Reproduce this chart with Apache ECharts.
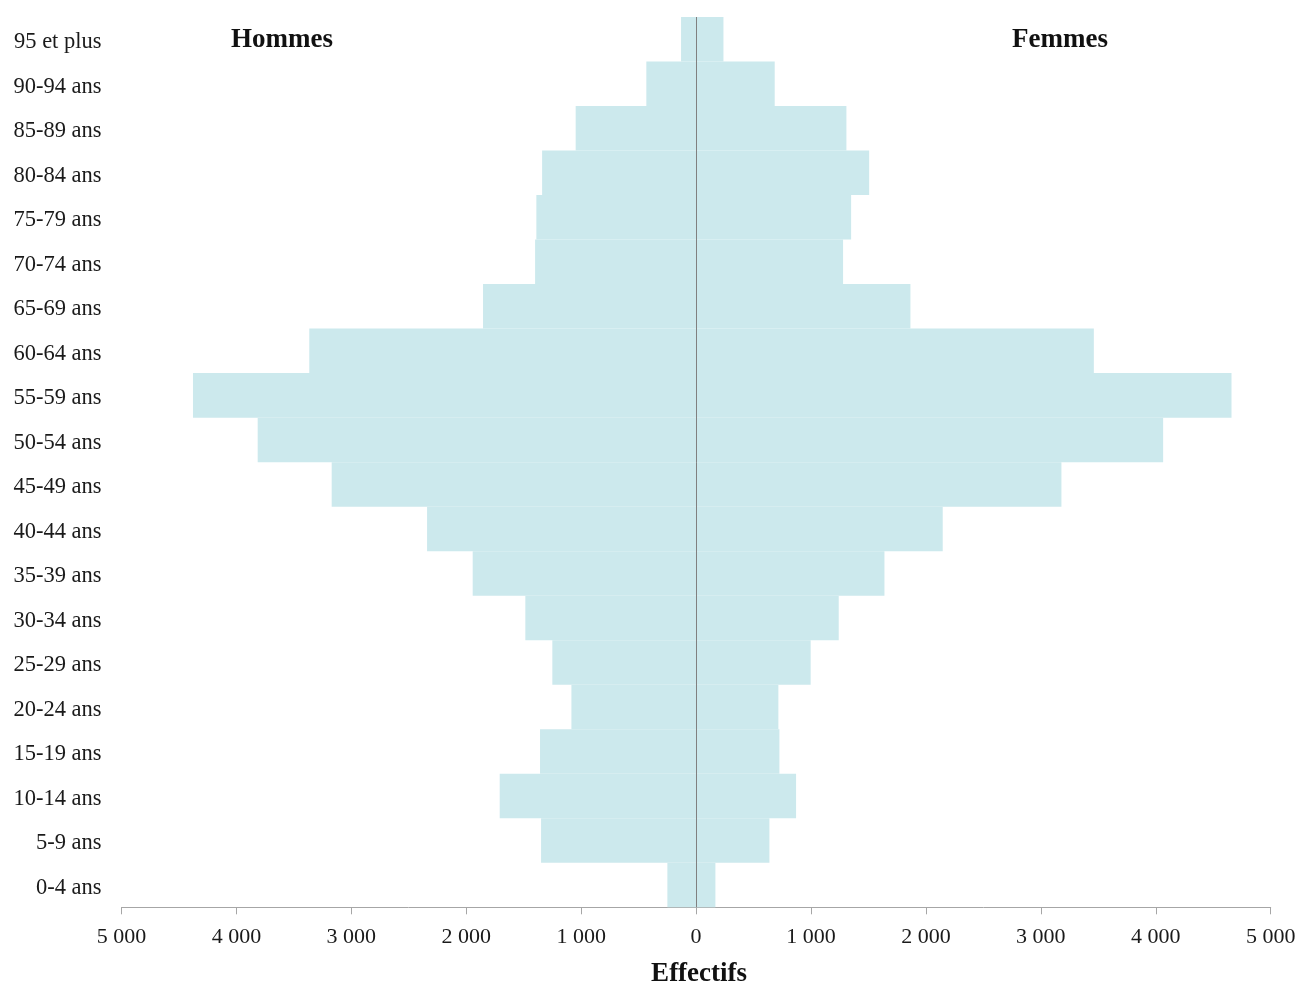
<!DOCTYPE html>
<html>
<head>
<meta charset="utf-8">
<script src="https://cdn.jsdelivr.net/npm/echarts@6/dist/echarts.min.js"></script>
<style>
html,body{margin:0;padding:0;background:#fff;}
#c{width:1300px;height:983px;}
</style>
</head>
<body>
<div id="c"></div>
<script>
const ages = ['0-4 ans','5-9 ans','10-14 ans','15-19 ans','20-24 ans','25-29 ans','30-34 ans','35-39 ans','40-44 ans','45-49 ans','50-54 ans','55-59 ans','60-64 ans','65-69 ans','70-74 ans','75-79 ans','80-84 ans','85-89 ans','90-94 ans','95 et plus'];
const hommes = [250,1349,1709,1358,1085,1251,1486,1944,2341,3171,3815,4378,3366,1854,1401,1390,1340,1048,433,131];
const femmes = [168,638,870,725,716,997,1241,1639,2146,3179,4064,4659,3461,1865,1279,1349,1506,1308,684,238];
const xTicks = {min:-5000, max:5000, interval:1000};
const labels = {left:'Hommes', right:'Femmes', axis:'Effectifs'};

const FONT = "'Liberation Serif','Times New Roman',serif";
const fmt = v => { const a = Math.abs(v); return a >= 1000 ? Math.floor(a/1000) + ' ' + String(a%1000).padStart(3,'0') : String(a); };

const chart = echarts.init(document.getElementById('c'), null, {renderer:'canvas'});
chart.setOption({
  animation:false,
  backgroundColor:'#ffffff',
  grid:{left:121.5, right:29.3, top:17, bottom:75.7, containLabel:false, outerBoundsMode:'none'},
  xAxis:{
    type:'value', min:xTicks.min, max:xTicks.max, interval:xTicks.interval,
    splitLine:{show:false},
    axisLine:{show:true, lineStyle:{color:'#a6a6a6', width:1}},
    axisTick:{show:true, length:7, lineStyle:{color:'#a6a6a6'}},
    axisLabel:{formatter:fmt, fontFamily:FONT, fontSize:22, color:'#1a1a1a', margin:19},
    name:labels.axis, nameLocation:'middle', nameGap:53,
    nameTextStyle:{fontFamily:FONT, fontSize:27, fontWeight:'bold', color:'#111', padding:[0,0,0,6]}
  },
  yAxis:{
    type:'category', data:ages,
    axisLine:{show:false}, axisTick:{show:false}, splitLine:{show:false},
    axisLabel:{fontFamily:FONT, fontSize:22.5, color:'#1a1a1a', margin:20, align:'right',
      formatter: v => '{a|' + v + '}',
      rich:{a:{fontFamily:FONT, fontSize:22.5, color:'#1a1a1a', padding:[6,0,0,0]}}}
  },
  graphic:[
    {type:'text', left:231, top:27, style:{text:labels.left, font:"bold 27px "+FONT, fill:'#111'}},
    {type:'text', left:1012, top:27, style:{text:labels.right, font:"bold 27px "+FONT, fill:'#111'}}
  ],
  series:[
    {name:labels.left, type:'bar', stack:'p', barCategoryGap:'0%', data:hommes.map(v=>-v),
     itemStyle:{color:'#cce9ed'}, silent:true},
    {name:labels.right, type:'bar', stack:'p', barCategoryGap:'0%', data:femmes,
     itemStyle:{color:'#cce9ed'}, silent:true,
     markLine:{silent:true, symbol:['none','none'], label:{show:false},
       lineStyle:{color:'#808080', width:1, type:'solid'}, data:[{xAxis:0}]}}
  ]
});
</script>
</body>
</html>
